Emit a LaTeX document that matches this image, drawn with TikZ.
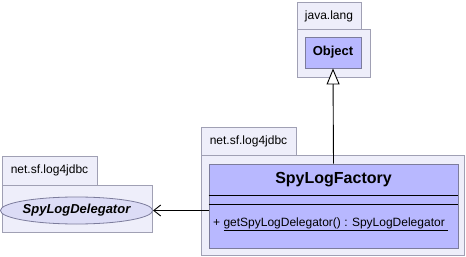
\documentclass[tikz,border=0pt]{standalone}
\usepackage{xcolor}
\usepackage{fontspec}
\setmainfont{Liberation Sans}
\usepackage{tikz}
\usetikzlibrary{positioning, arrows.meta, shapes.geometric}
\definecolor{pkgfondo}{HTML}{EEEEFA}
\definecolor{pkgborde}{HTML}{A0A0B4}
\definecolor{clasefondo}{HTML}{B8B8FF}
\definecolor{claseborde}{HTML}{7C7C9C}
\definecolor{interfondo}{HTML}{DCDCF6}

\begin{document}
\begin{tikzpicture}[x=1pt, y=-1pt,
    every node/.style={font=\fontsize{12}{14}\selectfont, inner sep=0pt},
    pkg/.style={fill=pkgfondo, draw=pkgborde, line width=0.8pt},
    clase/.style={draw=claseborde, fill=clasefondo, line width=0.9pt}
]
\useasboundingbox (0,0) rectangle (466,257);

% paquete java.lang
\draw[pkg] (297,2) rectangle (361,29);
\draw[pkg] (297,29) rectangle (370,77);
\node (pkgjava) at (329,16) {java.lang};
\node[clase, minimum width=56pt, minimum height=31pt,
    font=\fontsize{13}{15}\selectfont\bfseries] (object) at (333,52.5) {Object};

% paquete net.sf.log4jdbc (derecha)
\draw[pkg] (201,127) rectangle (296,155);
\draw[pkg] (201,155) rectangle (464,255);
\node (pkgfactory) at (248.5,141) {net.sf.log4jdbc};
\node[clase, minimum width=249pt, minimum height=84pt] (factory) at (333.5,206) {};
\node[font=\fontsize{16}{18}\selectfont\bfseries] (factoryname) at (333.5,180) {SpyLogFactory};
\draw[line width=0.9pt] (factory.west |- 0,195) -- (factory.east |- 0,195);
\draw[line width=0.9pt] (factory.west |- 0,204) -- (factory.east |- 0,204);
\node[anchor=base west] (factorymethod) at (213,226)
    {+ \underline{getSpyLogDelegator() : SpyLogDelegator~}};

% paquete net.sf.log4jdbc (izquierda)
\draw[pkg] (2,156) rectangle (97,185);
\draw[pkg] (2,185) rectangle (152,232);
\node (pkgdelegator) at (49.5,170.5) {net.sf.log4jdbc};
\node[ellipse, draw=claseborde, fill=interfondo, line width=0.8pt,
    minimum width=133pt, minimum height=27pt,
    font=\fontsize{13}{15}\selectfont\bfseries\itshape] (delegator) at (76.5,210.5) {SpyLogDelegator};

% relaciones
\draw[-{Triangle[open, fill=white, length=16pt, width=13pt]}, line width=0.9pt]
    (factory.north) -- (object.south);
\draw[-{Straight Barb[length=7pt, width=11pt]}, line width=0.9pt]
    (factory.west |- delegator.east) -- (delegator.east);
\end{tikzpicture}
\end{document}
